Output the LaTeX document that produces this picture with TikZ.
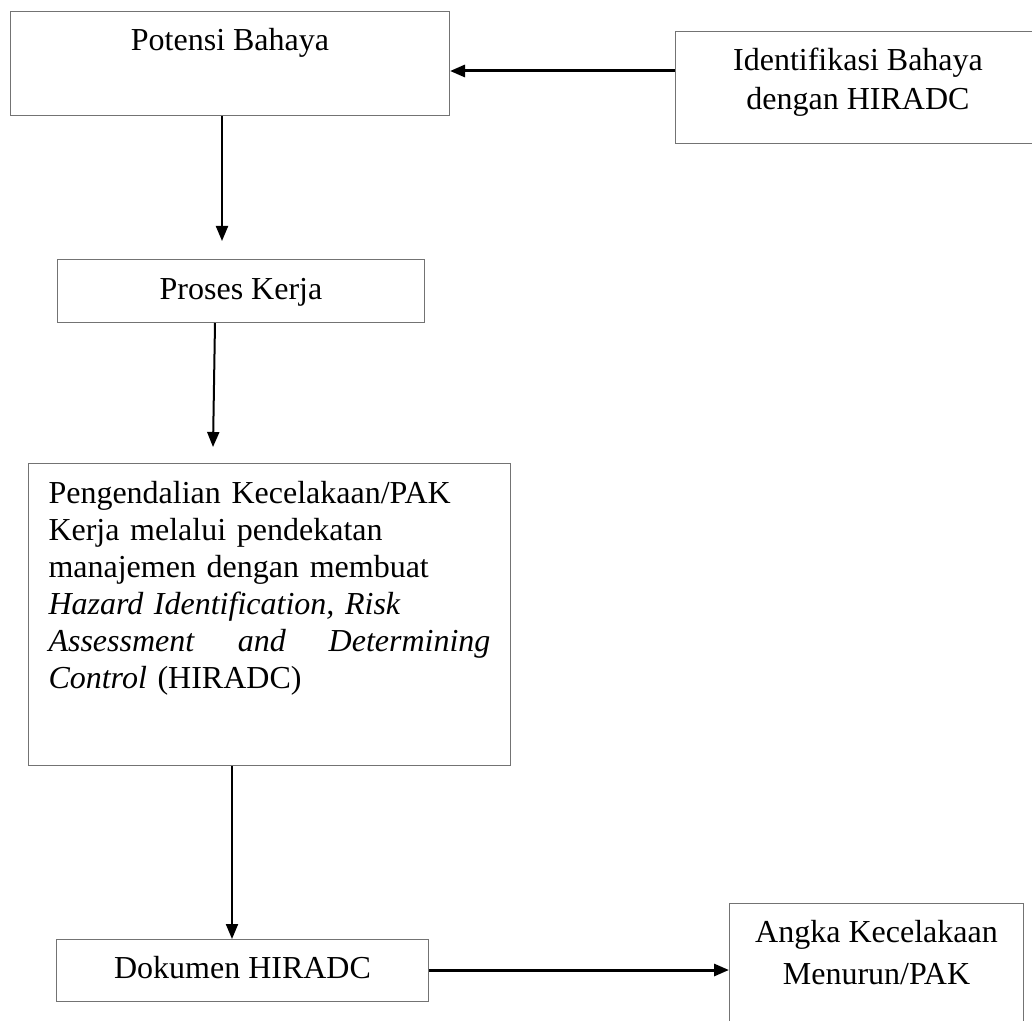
\documentclass[tikz,border=0pt]{standalone}
\usepackage{fontspec}
\setmainfont{Liberation Serif}
\usepackage{tikz}
\usetikzlibrary{arrows.meta}

\begin{document}
\begin{tikzpicture}[x=0.5pt, y=-0.5pt, >={Triangle[length=7.5pt,width=6pt]},
  block/.style={rectangle, draw=black!55, line width=0.5pt, inner sep=0pt, anchor=north west, align=center},
  flow/.style={->, line width=1pt},
  font=\fontsize{16}{19.5}\selectfont]

  \useasboundingbox (0,0) rectangle (1032,1021);

  % Nodes
  \node[block, minimum width=219.5pt, text height=19.5pt, text depth=32.5pt] (potensi) at (10,11) {Potensi Bahaya};
  \node[block, minimum width=182.5pt, text height=39pt, text depth=17pt] (identifikasi) at (675,31) {Identifikasi Bahaya\\dengan HIRADC};
  \node[block, minimum width=183.5pt, text height=20pt, text depth=11.5pt] (proses) at (57,259) {Proses Kerja};
  \node[block, minimum width=241pt, text width=221pt, align=left, text height=20pt, text depth=131pt,
        font=\fontsize{16}{18.5}\selectfont] (pengendalian) at (28,463)
    {Pengendalian Kecelakaan/PAK\\
     Kerja melalui pendekatan\\
     manajemen dengan membuat\\
     \textit{Hazard Identification, Risk}\\
     \makebox[221pt][l]{\textit{Assessment}\hfill\textit{and}\hfill\textit{Determining}}\\
     \textit{Control} (HIRADC)};
  \node[block, minimum width=186pt, text height=19.5pt, text depth=11.5pt] (dokumen) at (56,939) {Dokumen HIRADC};
  \node[block, minimum width=147pt, text height=40.5pt, text depth=24.5pt,
        font=\fontsize{16}{21}\selectfont] (angka) at (729,903) {Angka Kecelakaan\\Menurun/PAK};

  \coordinate (tipA) at (222,241);
  \coordinate (tipB) at (213,447);

  % Paths / Edges
  \draw[flow, line width=1.5pt] (identifikasi.west |- 0,71) -- (potensi.east |- 0,71);
  \draw[flow] (potensi.south -| tipA) -- (tipA);
  \draw[flow] (proses.south -| 215,0) -- (tipB);
  \draw[flow] (pengendalian.south -| 232,0) -- (dokumen.north -| 232,0);
  \draw[flow, line width=1.5pt] (dokumen.east |- 0,970) -- (angka.west |- 0,970);

\end{tikzpicture}
\end{document}
